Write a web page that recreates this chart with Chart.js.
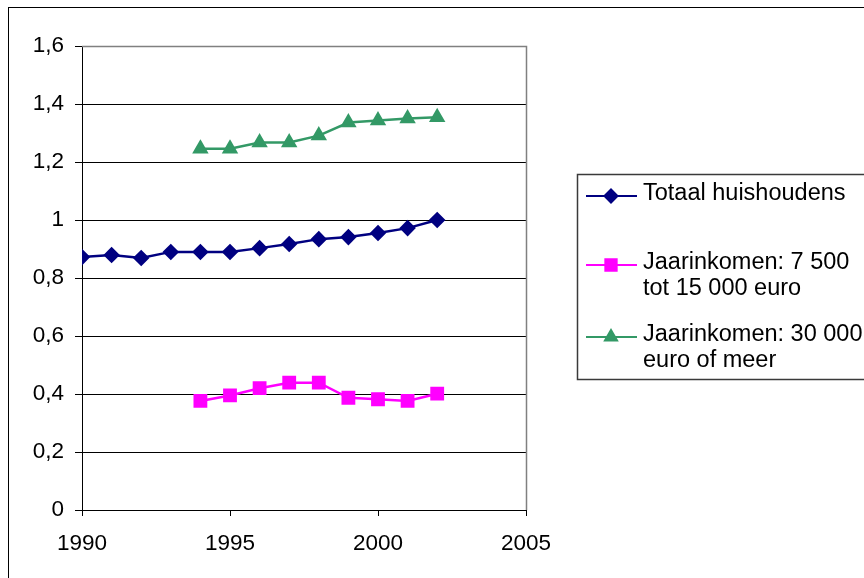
<!DOCTYPE html>
<html>
<head>
<meta charset="utf-8">
<script src="https://cdn.jsdelivr.net/npm/chart.js@4.4.0/dist/chart.umd.min.js"></script>
<style>
  html, body { margin: 0; padding: 0; background: #ffffff; }
  #wrap { width: 864px; height: 578px; position: relative; }
</style>
</head>
<body>
<div id="wrap"><canvas id="c" width="864" height="578"></canvas></div>
<script>
// Jaartallen en reeksen (index ten opzichte van 2002 = 1)
const years = [1990, 1991, 1992, 1993, 1994, 1995, 1996, 1997, 1998, 1999, 2000, 2001, 2002];
const totaalHuishoudens = [0.872, 0.879, 0.869, 0.890, 0.890, 0.890, 0.903, 0.917, 0.934, 0.941, 0.955, 0.972, 1.000];
const inkomen7500tot15000 = [null, null, null, null, 0.376, 0.395, 0.420, 0.439, 0.439, 0.387, 0.382, 0.376, 0.401];
const inkomen30000ofMeer = [null, null, null, null, 1.246, 1.246, 1.267, 1.267, 1.291, 1.336, 1.343, 1.350, 1.354];

const seriesLabels = [
  ['Totaal huishoudens'],
  ['Jaarinkomen: 7 500', 'tot 15 000 euro'],
  ['Jaarinkomen: 30 000', 'euro of meer']
];
const xTickValues = [1990, 1995, 2000, 2005];
const yTickValues = [0, 0.2, 0.4, 0.6, 0.8, 1, 1.2, 1.4, 1.6];

const FONT = "'Liberation Sans', Arial, sans-serif";

function toPoints(values) {
  return years.map((y, i) => ({ x: y, y: values[i] })).filter(p => p.y !== null);
}

// Kader om het geheel
const framePlugin = {
  id: 'frame',
  beforeDraw(chart) {
    const ctx = chart.ctx;
    ctx.save();
    ctx.fillStyle = '#ffffff';
    ctx.fillRect(0, 0, chart.width, chart.height);
    ctx.strokeStyle = '#000000';
    ctx.lineWidth = 1;
    ctx.strokeRect(8.5, 7.5, 1200, 1200);
    ctx.restore();
  }
};

// Grijze rand boven en rechts van het tekengebied
const plotBorderPlugin = {
  id: 'plotBorder',
  beforeDatasetsDraw(chart) {
    const { left, right, top, bottom } = chart.chartArea;
    const ctx = chart.ctx;
    ctx.save();
    ctx.strokeStyle = '#808080';
    ctx.lineWidth = 1.5;
    ctx.beginPath();
    ctx.moveTo(left, top + 0.5);
    ctx.lineTo(right + 0.5, top + 0.5);
    ctx.lineTo(right + 0.5, bottom);
    ctx.stroke();
    ctx.restore();
  }
};

// Legenda in een kader rechts van de grafiek
const legendBoxPlugin = {
  id: 'legendBox',
  afterDraw(chart) {
    const ctx = chart.ctx;
    const boxLeft = 577.5, boxTop = 174.5, boxBottom = 379.5;
    const rowCenters = [194, 263, 335];
    const lineHeight = 26;
    ctx.save();
    ctx.strokeStyle = '#3a3a3a';
    ctx.lineWidth = 1.5;
    ctx.strokeRect(boxLeft, boxTop, 400, boxBottom - boxTop);

    ctx.font = '23.5px ' + FONT;
    ctx.textBaseline = 'middle';
    ctx.textAlign = 'left';
    chart.data.datasets.forEach((ds, i) => {
      const yc = rowCenters[i];
      const ys = yc + 2;
      ctx.strokeStyle = ds.borderColor;
      ctx.lineWidth = 2;
      ctx.beginPath();
      ctx.moveTo(586, ys);
      ctx.lineTo(637, ys);
      ctx.stroke();
      ctx.fillStyle = ds.pointBackgroundColor;
      ctx.strokeStyle = ds.pointBorderColor;
      Chart.helpers.drawPoint(ctx, {
        pointStyle: ds.pointStyle,
        radius: ds.pointRadius,
        borderWidth: 1,
        rotation: 0
      }, 611, ys);
      ctx.fillStyle = '#000000';
      seriesLabels[i].forEach((line, j) => {
        ctx.fillText(line, 643, yc + j * lineHeight);
      });
    });
    ctx.restore();
  }
};

const datasets = [
  {
    label: seriesLabels[0].join(' '),
    data: toPoints(totaalHuishoudens),
    borderColor: '#000080',
    backgroundColor: '#000080',
    pointBackgroundColor: '#000080',
    pointBorderColor: '#000080',
    pointStyle: 'rectRot',
    pointRadius: 6.5,
    borderWidth: 2.5
  },
  {
    label: seriesLabels[1].join(' '),
    data: toPoints(inkomen7500tot15000),
    borderColor: '#ff00ff',
    backgroundColor: '#ff00ff',
    pointBackgroundColor: '#ff00ff',
    pointBorderColor: '#ff00ff',
    pointStyle: 'rect',
    pointRadius: 8,
    borderWidth: 2.5
  },
  {
    label: seriesLabels[2].join(' '),
    data: toPoints(inkomen30000ofMeer),
    borderColor: '#339966',
    backgroundColor: '#339966',
    pointBackgroundColor: '#339966',
    pointBorderColor: '#339966',
    pointStyle: 'triangle',
    pointRadius: 7,
    borderWidth: 2.5
  }
];

new Chart(document.getElementById('c'), {
  type: 'line',
  data: { datasets },
  plugins: [framePlugin, plotBorderPlugin, legendBoxPlugin],
  options: {
    responsive: false,
    animation: false,
    devicePixelRatio: 1,
    layout: { padding: { left: 0, top: 46, right: 338, bottom: 0 } },
    elements: {
      line: { tension: 0 },
      point: { borderWidth: 1, hoverRadius: 7 }
    },
    plugins: {
      legend: { display: false },
      tooltip: { enabled: false }
    },
    scales: {
      x: {
        type: 'linear',
        min: 1990,
        max: 2005,
        afterBuildTicks(scale) { scale.ticks = xTickValues.map(v => ({ value: v })); },
        afterFit(scale) { scale.height = 68; },
        ticks: {
          color: '#000000',
          font: { family: FONT, size: 22.5 },
          padding: 14,
          maxRotation: 0,
          autoSkip: false,
          callback: v => String(v)
        },
        grid: {
          drawOnChartArea: false,
          drawTicks: true,
          tickLength: 6,
          tickColor: '#000000',
          tickWidth: 1
        },
        border: { color: '#000000', width: 1 }
      },
      y: {
        min: 0,
        max: 1.6,
        afterBuildTicks(scale) { scale.ticks = yTickValues.map(v => ({ value: v })); },
        afterFit(scale) { scale.width = 82; },
        ticks: {
          color: '#000000',
          font: { family: FONT, size: 22.5 },
          padding: 11,
          autoSkip: false,
          callback: v => String(Number(v.toFixed(1))).replace('.', ',')
        },
        grid: {
          color: ctx => (ctx.tick && ctx.tick.value >= 1.6 - 1e-9) ? '#808080' : '#000000',
          lineWidth: 1,
          drawTicks: true,
          tickLength: 7,
          tickColor: '#000000'
        },
        border: { color: '#000000', width: 1 }
      }
    }
  }
});
</script>
</body>
</html>
